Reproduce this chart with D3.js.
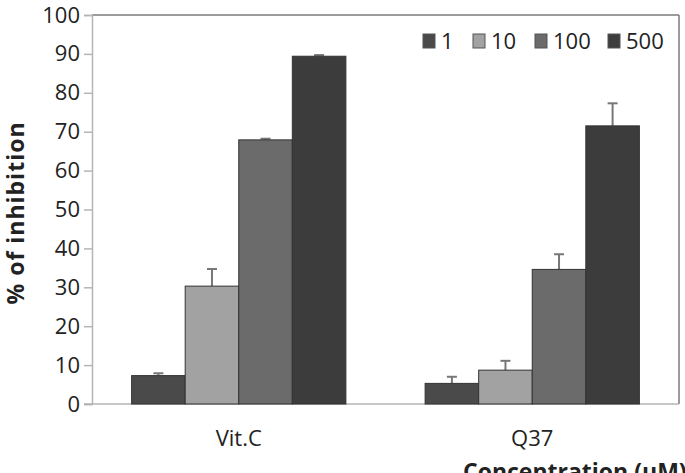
<!DOCTYPE html>
<html>
<head>
<meta charset="utf-8">
<script src="https://cdn.jsdelivr.net/npm/d3@7"></script>
<style>
  body { margin: 0; background: #fff; }
  text { font-family: "Open Sans", sans-serif; fill: #222; }
</style>
</head>
<body>
<div id="chart"></div>
<script>
// data
var groups = ["Vit.C", "Q37"];
var doses = ["1", "10", "100", "500"];
var vitcMeans = [7.3, 30.3, 67.9, 89.4];
var vitcErrs = [0.6, 4.4, 0.3, 0.3];
var q37Means = [5.3, 8.7, 34.6, 71.5];
var q37Errs = [1.7, 2.4, 3.9, 5.8];
var yTicks = [0, 10, 20, 30, 40, 50, 60, 70, 80, 90, 100];
var barColors = ["#4a4a4a", "#a2a2a2", "#6b6b6b", "#3c3c3c"];

var means = [vitcMeans, q37Means];
var errs = [vitcErrs, q37Errs];

var svgWidth = 685;
var svgHeight = 473;
var margin = { top: 15, right: 6, bottom: 69, left: 92 };
var width = svgWidth - margin.left - margin.right;
var height = svgHeight - margin.top - margin.bottom;

var svg = d3.select("#chart")
    .append("svg")
    .attr("width", svgWidth)
    .attr("height", svgHeight);

var g = svg.append("g")
    .attr("transform", `translate(${margin.left}, ${margin.top})`);

var x0 = d3.scaleBand().domain(groups).range([0, width]).paddingInner(0).paddingOuter(0);
var groupW = x0.bandwidth() * 0.73;
var x1 = d3.scaleBand().domain(doses).range([0, groupW]).padding(0);
var y = d3.scaleLinear().domain([0, 100]).range([height, 0]);

// frame: top and right
g.append("line").attr("x1", 0).attr("x2", width).attr("y1", 0).attr("y2", 0)
    .attr("stroke", "#7a7a7a").attr("stroke-width", 1.5);
g.append("line").attr("x1", width).attr("x2", width).attr("y1", 0).attr("y2", height)
    .attr("stroke", "#7a7a7a").attr("stroke-width", 1.5);

// y axis
var yAxis = d3.axisLeft(y).tickValues(yTicks).tickSize(8).tickPadding(4);
var ya = g.append("g").call(yAxis);
ya.select(".domain").attr("stroke", "#b5b5b5").attr("stroke-width", 1.5);
ya.selectAll(".tick line").attr("stroke", "#b5b5b5").attr("stroke-width", 1.5);
ya.selectAll(".tick text").attr("font-size", 22).attr("fill", "#222")
    .attr("font-family", "Open Sans, sans-serif");

// x axis
var xAxis = d3.axisBottom(x0).tickSize(0).tickPadding(26);
var xa = g.append("g").attr("transform", `translate(0, ${height})`).call(xAxis);
xa.select(".domain").remove();
xa.append("line").attr("x1", -8).attr("x2", width).attr("stroke", "#b5b5b5").attr("stroke-width", 1.5);
xa.selectAll(".tick text").attr("font-size", 22).attr("fill", "#222")
    .attr("font-family", "Open Sans, sans-serif");

// bars
groups.forEach(function(grp, gi) {
    var off = x0(grp) + (x0.bandwidth() - groupW) / 2;
    var gg = g.append("g").attr("transform", `translate(${off}, 0)`);
    doses.forEach(function(d, di) {
        var cx = x1(d) + x1.bandwidth() / 2;
        var top = y(means[gi][di] + errs[gi][di]);
        // error bar (upper only)
        gg.append("line").attr("x1", cx).attr("x2", cx)
            .attr("y1", y(means[gi][di])).attr("y2", top)
            .attr("stroke", "#777").attr("stroke-width", 2);
        gg.append("line").attr("x1", cx - 5).attr("x2", cx + 5)
            .attr("y1", top).attr("y2", top)
            .attr("stroke", "#777").attr("stroke-width", 2);
        gg.append("rect")
            .attr("x", x1(d))
            .attr("y", y(means[gi][di]))
            .attr("width", x1.bandwidth())
            .attr("height", height - y(means[gi][di]))
            .attr("fill", barColors[di])
            .attr("stroke", "#333")
            .attr("stroke-width", 1);
    });
});

// legend
var legX = [423, 473, 535, 608];
var leg = svg.append("g");
doses.forEach(function(d, i) {
    leg.append("rect").attr("x", legX[i]).attr("y", 34).attr("width", 12).attr("height", 14)
        .attr("fill", barColors[i]).attr("stroke", "#555").attr("stroke-width", 1);
    leg.append("text").attr("x", legX[i] + 18).attr("y", 49).attr("font-size", 22).text(d);
});

// axis titles
svg.append("text")
    .attr("transform", "rotate(-90)")
    .attr("x", -213)
    .attr("y", 24)
    .attr("text-anchor", "middle")
    .attr("font-size", 23)
    .attr("font-weight", "bold")
    .attr("letter-spacing", 1)
    .text("% of inhibition");

svg.append("text")
    .attr("x", 463)
    .attr("y", 480)
    .attr("font-size", 23)
    .attr("font-weight", "bold")
    .text("Concentration (μM)");
</script>
</body>
</html>
